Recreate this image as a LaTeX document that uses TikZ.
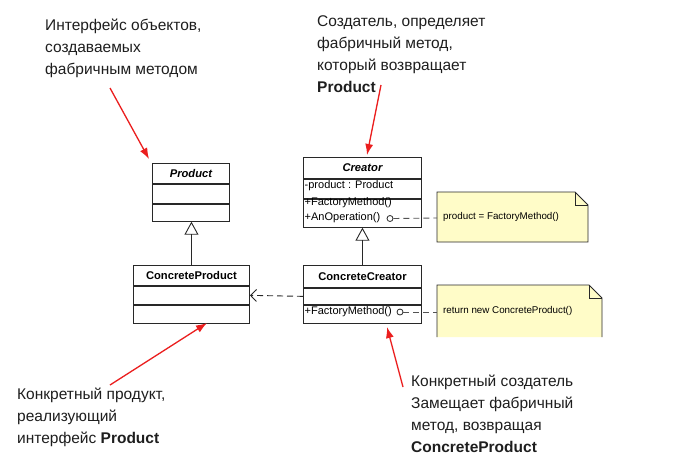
\documentclass[tikz,border=0pt]{standalone}
\usepackage{fontspec}
\setmainfont{Liberation Sans}
\usetikzlibrary{arrows.meta}
\definecolor{umlline}{RGB}{40,40,40}
\definecolor{notefill}{RGB}{255,252,200}
\definecolor{redarrow}{RGB}{235,30,30}
\definecolor{annotcol}{RGB}{30,30,30}
\begin{document}
\begin{tikzpicture}[x=1pt,y=-1pt,
  comp/.style={draw=umlline, line width=0.9pt, inner sep=0pt, anchor=north west},
  clsname/.style={font=\fontsize{11.2}{13}\selectfont\bfseries},
  member/.style={font=\fontsize{11}{13}\selectfont, inner sep=0pt, anchor=west},
  annot/.style={font=\fontsize{15.5}{22}\selectfont, text=annotcol, align=left, inner sep=0pt, anchor=north west},
  pointer/.style={draw=redarrow, line width=1.3pt, -{Latex[length=11pt,width=8pt]}},
  inherit/.style={draw=umlline, line width=0.9pt, -{Triangle[open,length=13pt,width=14pt]}},
  depend/.style={draw=umlline, line width=0.9pt, dash pattern=on 6pt off 4pt, -{Straight Barb[length=6pt,width=12pt]}},
  notelink/.style={draw=umlline!80, line width=0.9pt, dash pattern=on 6pt off 4pt},
  ball/.style={circle, draw=umlline, line width=0.8pt, inner sep=0pt, minimum size=6pt, fill=white},
  notebody/.style={draw=umlline, line width=0.9pt},
  notetext/.style={font=\fontsize{9.8}{11}\selectfont, inner sep=0pt, anchor=west},
]
\useasboundingbox[fill=white] (0,0) rectangle (691,459);

% ---- Product
\node[comp, font=\fontsize{11.2}{13}\selectfont\bfseries\itshape, minimum width=77pt, minimum height=20pt] (pname) at (152,163) {Product};
\node[comp, minimum width=77pt, minimum height=19pt] (pattr) at (pname.south west) {};
\node[comp, minimum width=77pt, minimum height=17pt] (pops) at (pattr.south west) {};

% ---- ConcreteProduct
\node[comp, clsname, minimum width=116pt, minimum height=20pt] (cpname) at (133,265) {ConcreteProduct};
\node[comp, minimum width=116pt, minimum height=18pt] (cpattr) at (cpname.south west) {};
\node[comp, minimum width=116pt, minimum height=18pt] (cpops) at (cpattr.south west) {};

% ---- Creator
\node[comp, font=\fontsize{11.2}{13}\selectfont\bfseries\itshape, minimum width=118pt, minimum height=21pt] (crname) at (303,157) {Creator};
\node[comp, minimum width=118pt, minimum height=19pt] (crattr) at (crname.south west) {};
\node[comp, minimum width=118pt, minimum height=28pt] (crops) at (crattr.south west) {};
\node[member] (cr1) at (304.5,186) {-product : Product};
\node[member] (cr2) at (304.5,203) {+FactoryMethod()};
\node[member] (cr3) at (304.5,218) {+AnOperation()};

% ---- ConcreteCreator
\node[comp, clsname, minimum width=118pt, minimum height=22pt] (ccname) at (303,265) {ConcreteCreator};
\node[comp, minimum width=118pt, minimum height=16pt] (ccattr) at (ccname.south west) {};
\node[comp, minimum width=118pt, minimum height=18pt] (ccops) at (ccattr.south west) {};
\node[member] (cc1) at (304.5,312) {+FactoryMethod()};

% ---- relations
\draw[inherit] (cpname.north) -- (cpname.north |- pops.south);
\draw[inherit] (ccname.north) -- (crops.south);
\draw[depend] (ccattr.west) -- (cpattr.east);

% ---- notes
\fill[notefill] (437,192) -- (575,192) -- (588,205) -- (588,242) -- (437,242) -- cycle;
\draw[notebody] (437,192) -- (575,192) -- (588,205) -- (588,242) -- (437,242) -- cycle;
\draw[notebody] (575,192) -- (575,205) -- (588,205);
\node[notetext] (n1t) at (443,217) {product = FactoryMethod()};
\coordinate (n1l) at (437,218);

\fill[notefill] (437,285) -- (589,285) -- (602,298) -- (602,337) -- (437,337) -- cycle;
\draw[notebody] (437,337) -- (437,285) -- (589,285) -- (602,298) -- (602,337);
\draw[notebody] (589,285) -- (589,298) -- (602,298);
\node[notetext] (n2t) at (443,311) {return new ConcreteProduct()};
\coordinate (n2l) at (437,312);

\node[ball] (b1) at (390,218.5) {};
\node[ball] (b2) at (400,312) {};
\draw[notelink] (b1.east) -- (n1l);
\draw[notelink] (b2.east) -- (n2l);

% ---- annotations
\node[annot] (a1) at (45,18.5) {Интерфейс объектов,\\создаваемых\\фабричным методом};
\node[annot] (a2) at (317,15.5) {Создатель, определяет\\фабричный метод,\\который возвращает\\\textbf{Product}};
\node[annot] (a3) at (17,388) {Конкретный продукт,\\реализующий\\интерфейс \textbf{Product}};
\node[annot] (a4) at (411,375) {Конкретный создатель\\Замещает фабричный\\метод, возвращая\\\textbf{ConcreteProduct}};

\coordinate (p1s) at (110,88);
\coordinate (p1e) at (149,159);
\coordinate (p2s) at (381,85);
\coordinate (p2e) at (367,155);
\coordinate (p3s) at (110,385);
\coordinate (p3e) at (207,323);
\coordinate (p4s) at (403,387);
\coordinate (p4e) at (387,327);
\draw[pointer] (p1s) -- (p1e);
\draw[pointer] (p2s) -- (p2e);
\draw[pointer] (p3s) -- (p3e);
\draw[pointer] (p4s) -- (p4e);
\end{tikzpicture}
\end{document}
